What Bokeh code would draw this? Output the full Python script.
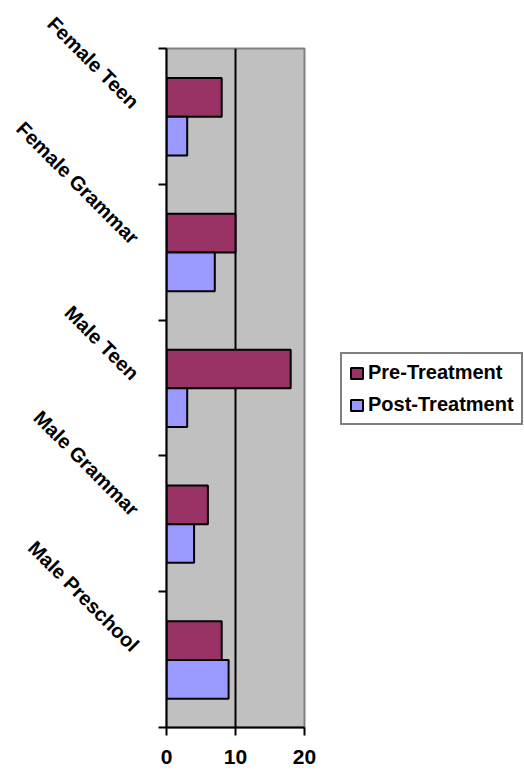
import math
from bokeh.plotting import figure
from bokeh.models import ColumnDataSource, Range1d, FixedTicker, Legend, LegendItem
from bokeh.transform import dodge
from bokeh.embed import file_html
from bokeh.resources import INLINE

categories = ["Female Teen", "Female Grammar", "Male Teen", "Male Grammar", "Male Preschool"]
pre_treatment = [8, 10, 18, 6, 8]
post_treatment = [3, 7, 3, 4, 9]
x_ticks = [0, 10, 20]

n = len(categories)
centers = [n - i - 0.5 for i in range(n)]
label_pos = [c + 0.085 for c in centers]
src = ColumnDataSource(dict(y=centers, pre=pre_treatment, post=post_treatment, cat=categories))

FONT = "Liberation Sans"

p = figure(output_backend="svg", toolbar_location=None,
           x_range=Range1d(0, 20), y_range=Range1d(0, n),
           frame_width=138, frame_height=679,
           min_border_left=166, min_border_top=48, min_border_bottom=44, min_border_right=218)

p.border_fill_color = "white"
p.background_fill_color = "#C0C0C0"
p.outline_line_color = "#808080"
p.outline_line_width = 2

r_pre = p.hbar(y=dodge("y", 0.14), right="pre", left=0, height=0.285, source=src,
               fill_color="#993366", line_color="black", line_width=2)
r_post = p.hbar(y=dodge("y", -0.145), right="post", left=0, height=0.285, source=src,
                fill_color="#9999FF", line_color="black", line_width=2)

# x axis
p.xaxis.ticker = FixedTicker(ticks=x_ticks)
p.xaxis.axis_line_width = 2
p.xaxis.major_tick_line_width = 2
p.xaxis.major_tick_out = 8
p.xaxis.major_tick_in = 0
p.xaxis.minor_tick_line_color = None
p.xaxis.major_label_text_font = FONT
p.xaxis.major_label_text_font_style = "bold"
p.xaxis.major_label_text_font_size = "21px"
p.xaxis.major_label_text_color = "black"
p.xaxis.major_label_standoff = 14

# y axis
p.yaxis.ticker = FixedTicker(ticks=label_pos, minor_ticks=list(range(n + 1)))
p.yaxis.major_label_overrides = {float(c): lab for c, lab in zip(label_pos, categories)}
p.yaxis.axis_line_width = 2
p.yaxis.major_tick_line_color = None
p.yaxis.major_tick_out = 0
p.yaxis.major_tick_in = 0
p.yaxis.minor_tick_line_color = "black"
p.yaxis.minor_tick_line_width = 2
p.yaxis.minor_tick_out = 8
p.yaxis.minor_tick_in = 0
p.yaxis.major_label_orientation = -math.pi / 4
p.yaxis.major_label_text_font = FONT
p.yaxis.major_label_text_font_style = "bold"
p.yaxis.major_label_text_font_size = "20px"
p.yaxis.major_label_text_color = "black"
p.yaxis.major_label_standoff = 23

p.ygrid.grid_line_color = None
p.xgrid.ticker = FixedTicker(ticks=[10])
p.xgrid.grid_line_color = "black"
p.xgrid.grid_line_width = 2

legend = Legend(items=[LegendItem(label="Pre-Treatment", renderers=[r_pre]),
                       LegendItem(label="Post-Treatment", renderers=[r_post])],
                location=(36, 302), margin=0,
                label_text_font=FONT, label_text_font_style="bold",
                label_text_font_size="20px", label_text_color="black",
                glyph_width=15, glyph_height=14, label_height=22, label_standoff=4,
                spacing=9, padding=7,
                border_line_color="black", border_line_width=2,
                background_fill_color="white", background_fill_alpha=1)
p.add_layout(legend, "right")

open("out.html", "w").write(file_html(p, INLINE))
